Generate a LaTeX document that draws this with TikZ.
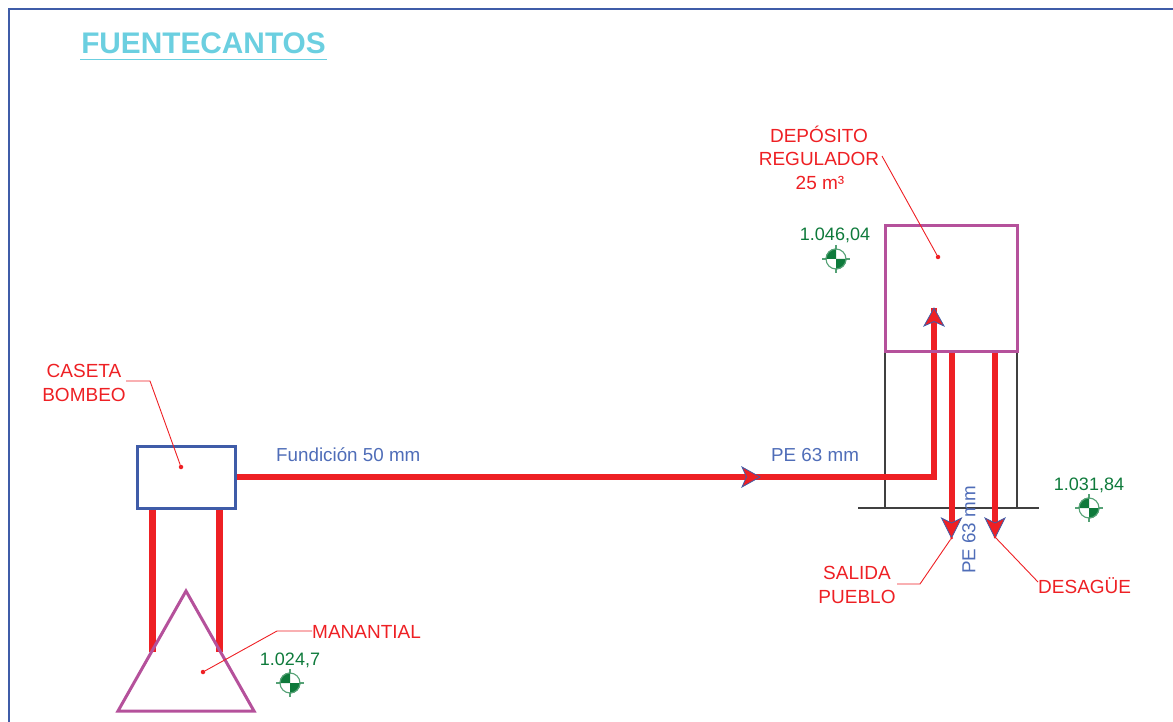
\documentclass[tikz,border=0pt]{standalone}
\usepackage{fontspec}
\setmainfont{Liberation Sans}
\usetikzlibrary{calc}
\definecolor{pipered}{HTML}{EE2024}
\definecolor{lilac}{HTML}{B5519B}
\definecolor{boxblue}{HTML}{3F5CA8}
\definecolor{textblue}{HTML}{4F6DB8}
\definecolor{benchgreen}{HTML}{0E7A3B}
\definecolor{titlecyan}{HTML}{6BCFE0}
\definecolor{stand}{HTML}{404040}
\newcommand{\fs}[1]{\fontsize{#1}{#1}\selectfont}
\newcommand{\bench}[2]{%
  \coordinate (#1) at #2;
  \draw[benchgreen!70,line width=1.1pt] ($(#1)+(-14,0)$) -- ($(#1)+(14,0)$);
  \draw[benchgreen!70,line width=1.1pt] ($(#1)+(0,-14)$) -- ($(#1)+(0,14)$);
  \fill[white] (#1) circle (9.5);
  \fill[benchgreen] (#1) -- ($(#1)+(-10.5,0)$) arc (180:270:10.5) -- cycle;
  \fill[benchgreen] (#1) -- ($(#1)+(10.5,0)$) arc (0:90:10.5) -- cycle;
  \draw[benchgreen!70,line width=1.1pt] (#1) circle (10);
}
\tikzset{
  pipe/.style={pipered,line width=6pt},
  leader/.style={pipered,line width=.9pt},
  redtxt/.style={text=pipered,inner sep=0,font=\fs{19}},
  bluetxt/.style={text=textblue,inner sep=0,font=\fs{18.8}},
  greentxt/.style={text=benchgreen,inner sep=0,font=\fs{18}},
  tipshape/.style={fill=pipered,draw=boxblue,line width=.8pt,line join=miter},
  dotmark/.style={circle,fill=pipered,inner sep=0,minimum size=4.5pt},
}
\begin{document}
\begin{tikzpicture}[x=1pt,y=-1pt]
\useasboundingbox (0,0) rectangle (1173,722);
% frame
\coordinate (fa) at (9,722); \coordinate (fb) at (9,9.5); \coordinate (fc) at (1173,9.5);
\draw[boxblue,line width=2pt] (fa) -- (fb) -- (fc);
% title
\node[text=titlecyan,font=\fs{29.8}\bfseries,inner sep=0,anchor=center] (title) at (203.5,43.5) {FUENTECANTOS};
\coordinate (ua) at (80,59.5); \coordinate (ub) at (327,59.5);
\draw[titlecyan,line width=1.1pt] (ua) -- (ub);
% stand and ground
\coordinate (sl) at (885,351); \coordinate (slb) at (885,508);
\coordinate (sr) at (1017,351); \coordinate (srb) at (1017,508);
\coordinate (ga) at (858,508); \coordinate (gb) at (1039,508);
\draw[stand,line width=1.1pt] (sl) -- (slb) (sr) -- (srb) (ga) -- (gb);
% coordinates for pipes
\coordinate (pa) at (236,477);
\coordinate (pb) at (933.5,477);
\coordinate (pc) at (933.5,308);
\coordinate (sa) at (951.5,351); \coordinate (sb) at (951.5,530);
\coordinate (da) at (995,351); \coordinate (db) at (995,530);
\coordinate (ml) at (152.5,508); \coordinate (mlb) at (152.5,652);
\coordinate (mr) at (219.5,508); \coordinate (mrb) at (219.5,652);
% pipes
\draw[pipe,line join=miter] (pa) -- (pb) -- (pc);
\draw[pipe] (sa) -- (sb);
\draw[pipe] (da) -- (db);
\draw[pipe,line width=6.5pt] (ml) -- (mlb);
\draw[pipe,line width=6.5pt] (mr) -- (mrb);
% shapes
\path[draw=boxblue,line width=3pt] (137,446) rectangle (235,508);
\node[minimum width=98pt,minimum height=62pt,inner sep=0] (caseta) at (186,477) {};
\node[draw=lilac,line width=3pt,minimum width=132pt,minimum height=125pt,inner sep=0] (deposito) at (951,288.5) {};
\coordinate (ta) at (186,591); \coordinate (tb) at (254,711); \coordinate (tc) at (118,711);
\draw[lilac,line width=3pt] (ta) -- (tb) -- (tc) -- cycle;
% arrow tips
\filldraw[tipshape] (760,477) -- (742,467) -- (746.5,477) -- (742,487) -- cycle;
\filldraw[tipshape] (934,308) -- (924,326) -- (934,321.5) -- (944,326) -- cycle;
\filldraw[tipshape] (951.5,538) -- (941.5,518) -- (951.5,523) -- (961.5,518) -- cycle;
\filldraw[tipshape] (995,538) -- (985,518) -- (995,523) -- (1005,518) -- cycle;
% dots
\node[dotmark] (dd) at (938,257) {};
\node[dotmark] (dc) at (181,467) {};
\node[dotmark] (dm) at (203,672) {};
\node[dotmark,minimum size=3pt] (ds) at (951.5,538) {};
\node[dotmark,minimum size=3pt] (dg) at (995,537) {};
% labels
\node[redtxt] (t1) at (819,134.5) {DEPÓSITO};
\node[redtxt] (t2) at (819,158.5) {REGULADOR};
\node[redtxt] (t3) at (820,182.5) {25 m³};
\node[redtxt] (c1) at (84,371) {CASETA};
\node[redtxt] (c2) at (84,395) {BOMBEO};
\node[redtxt] (s1) at (857,572.5) {SALIDA};
\node[redtxt] (s2) at (857,597) {PUEBLO};
\node[redtxt,anchor=west] (dg1) at (1038,586) {DESAGÜE};
\node[redtxt,anchor=west] (m1) at (312,632) {MANANTIAL};
\node[bluetxt,anchor=west] (b1) at (276,455) {Fundición 50 mm};
\node[bluetxt,anchor=west] (b2) at (771,455) {PE 63 mm};
\node[bluetxt,rotate=90] (b3) at (969,530) {PE 63 mm};
\node[greentxt] (g1) at (835,235) {1.046,04};
\node[greentxt] (g2) at (1089,485) {1.031,84};
\node[greentxt] (g3) at (290,660) {1.024,7};
% leaders
\coordinate (l1) at (882,156); \coordinate (l2a) at (126,381); \coordinate (l2b) at (150,381);
\coordinate (l3a) at (897,584); \coordinate (l3b) at (920,584);
\coordinate (l4) at (1038,582); \coordinate (l5a) at (277,631); \coordinate (l5b) at (312,631);
\draw[leader] (l1) -- (dd);
\draw[leader] (l2a) -- (l2b) -- (dc);
\draw[leader] (l3a) -- (l3b) -- (ds);
\draw[leader] (l4) -- (dg);
\draw[leader] (l5b) -- (l5a) -- (dm);
% benchmarks
\bench{bm1}{(836,259)}
\bench{bm2}{(1089,508)}
\bench{bm3}{(290,683)}
\end{tikzpicture}
\end{document}
